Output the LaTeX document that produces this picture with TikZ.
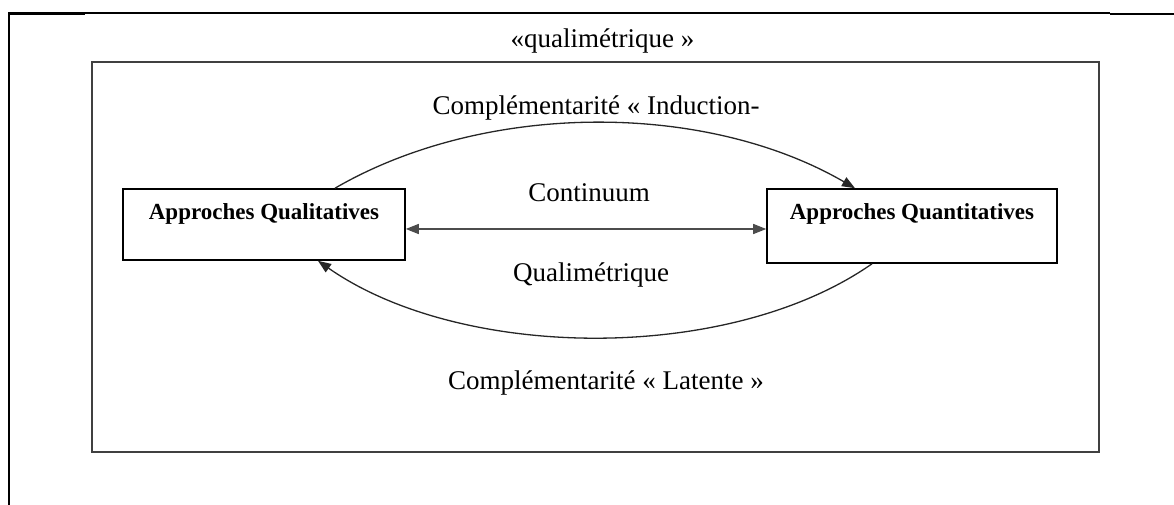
\documentclass[tikz,border=0pt]{standalone}
\usepackage{fontspec}
\setmainfont{Liberation Serif}
\usetikzlibrary{arrows.meta}

\tikzset{
  txt/.style={font=\fontsize{27}{32}\selectfont, inner sep=0pt, anchor=base},
  apprbox/.style={draw=black, line width=1.6pt, rectangle, inner sep=0pt},
  boxlbl/.style={font=\bfseries\fontsize{23}{28}\selectfont, inner sep=0pt, anchor=base},
  frame/.style={draw=black!75, line width=2pt, rectangle, inner sep=0pt},
  arc/.style={draw=black!85, line width=1.3pt, -{Triangle[length=13pt,width=10pt]}},
  link/.style={draw=black!70, line width=1.4pt, {Triangle[length=13pt,width=10pt]}-{Triangle[length=13pt,width=10pt]}},
  rule/.style={draw=black, line width=1.3pt},
  thickrule/.style={draw=black, line width=2.2pt}
}

\begin{document}
\begin{tikzpicture}[x=1pt,y=1pt]
  \useasboundingbox (0,0) rectangle (1174,505);

  % table borders around the figure
  \draw[thickrule] (8,491.5) -- (85,491.5);
  \draw[rule] (85,492) -- (1110,492);
  \draw[thickrule] (1110,491.2) -- (1174,491.2);
  \draw[thickrule] (9,492.5) -- (9,0);

  % outer frame and its caption
  \node[frame, minimum width=1007pt, minimum height=390pt] (fr) at (595.5,248) {};
  \node[txt] (cap) at (602.5,457) {«qualimétrique »};

  % the two approaches
  \node[apprbox, minimum width=282pt, minimum height=71pt,
        label={[boxlbl, yshift=-31pt]north:Approches Qualitatives}] (ql) at (264,280.5) {};
  \node[apprbox, minimum width=290pt, minimum height=74pt,
        label={[boxlbl, yshift=-31pt]north:Approches Quantitatives}] (qt) at (912,279) {};

  % continuum between the approaches
  \coordinate (a1) at ([yshift=-4.5pt]ql.east);
  \draw[link] (a1) -- (a1 -| qt.west);

  % upper and lower complementarity arcs
  \draw[arc] ([xshift=71pt]ql.north) .. controls +(150,87) and +(-150,87) .. ([xshift=-57pt]qt.north);
  \draw[arc] ([xshift=-40pt]qt.south) .. controls +(-143,-100) and +(143,-100) .. ([xshift=54pt]ql.south);

  % labels
  \node[txt] (ind) at (596,390) {Complémentarité « Induction-};
  \node[txt] (cont) at (589,303) {Continuum};
  \node[txt] (qual) at (591,223) {Qualimétrique};
  \node[txt] (lat) at (606,115) {Complémentarité « Latente »};
\end{tikzpicture}
\end{document}
